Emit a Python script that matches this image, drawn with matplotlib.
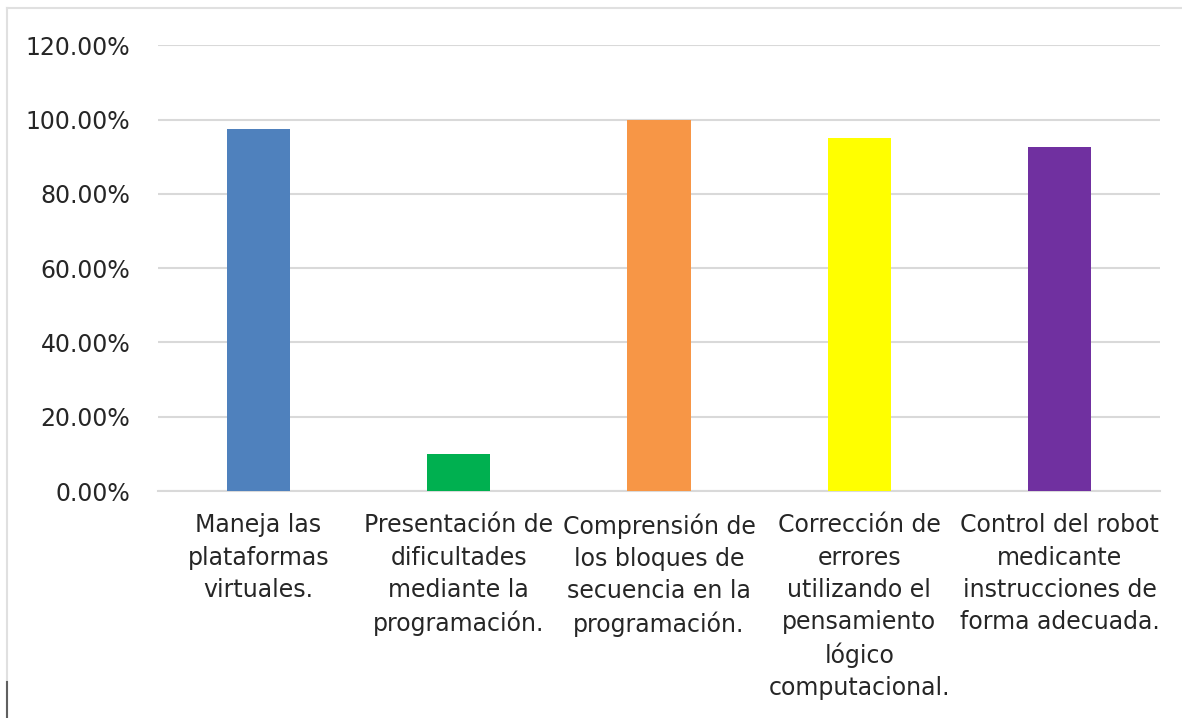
import matplotlib.pyplot as plt
import numpy as np
from matplotlib.ticker import FuncFormatter
from matplotlib.lines import Line2D

categorias = [
    "Maneja las\nplataformas\nvirtuales.",
    "Presentación de\ndificultades\nmediante la\nprogramación.",
    "Comprensión de\nlos bloques de\nsecuencia en la\nprogramación.",
    "Corrección de\nerrores\nutilizando el\npensamiento\nlógico\ncomputacional.",
    "Control del robot\nmedicante\ninstrucciones de\nforma adecuada.",
]
valores = [0.975, 0.10, 1.00, 0.95, 0.925]
colores = ["#4F81BD", "#00B050", "#F79646", "#FFFF00", "#7030A0"]

fig = plt.figure(figsize=(11.82, 7.18), dpi=100)
ax = fig.add_axes([0.1337, 0.316, 0.8477, 0.621])

x = np.arange(len(categorias))
ax.bar(x, valores, width=0.315, color=colores, zorder=3)

ax.set_xlim(-0.5, len(categorias) - 0.5)
ax.set_ylim(0, 1.2)
ax.set_yticks(np.arange(0, 1.21, 0.2))
ax.yaxis.set_major_formatter(FuncFormatter(lambda v, p: f"{v*100:.2f}%"))
ax.grid(axis="y", color="#d9d9d9", linewidth=1.5, zorder=0)
ax.set_xticks(x)
ax.set_xticklabels(categorias, fontsize=17, linespacing=1.43, va="top", color="#262626")
ax.tick_params(axis="y", labelsize=17, labelcolor="#262626", length=0, pad=20)
ax.tick_params(axis="x", length=0, pad=16)
for s in ["top", "right", "left"]:
    ax.spines[s].set_visible(False)
ax.spines["bottom"].set_color("#d9d9d9")
ax.spines["bottom"].set_linewidth(1.5)

# marco del gráfico
fig.add_artist(Line2D([0.006, 1.0], [0.989, 0.989], transform=fig.transFigure,
                      color="#e0e0e0", linewidth=1.5))
fig.add_artist(Line2D([0.006, 0.006], [0.0, 0.989], transform=fig.transFigure,
                      color="#e0e0e0", linewidth=1.5))
fig.add_artist(Line2D([0.006, 0.006], [0.0, 0.05], transform=fig.transFigure,
                      color="#606060", linewidth=1.5))

fig.savefig("out.png")
